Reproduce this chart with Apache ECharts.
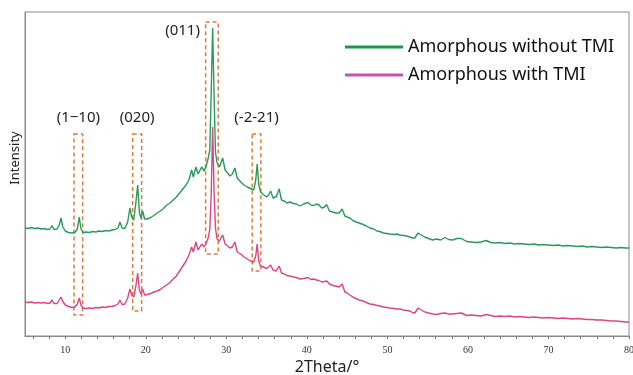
<!DOCTYPE html>
<html>
<head>
<meta charset="utf-8">
<script src="https://cdn.jsdelivr.net/npm/echarts@6/dist/echarts.min.js"></script>
<style>html,body{margin:0;padding:0;background:#fff;}#c{width:633px;height:375px;}</style>
</head>
<body>
<div id="c"></div>
<script>
// 2Theta (deg) sample positions shared by both patterns
const angles = [
  5.0, 5.4, 5.8, 6.2, 6.6, 7.0, 7.4, 7.8, 8.1, 8.35,
  8.6, 9.0, 9.25, 9.47, 9.7, 10.0, 10.4, 10.8, 11.2, 11.5,
  11.74, 11.95, 12.2, 12.6, 13.0, 13.4, 13.8, 14.2, 14.6, 15.0,
  15.4, 15.8, 16.2, 16.55, 16.79, 17.05, 17.4, 17.75, 18.03, 18.25,
  18.5, 18.75, 18.99, 19.2, 19.4, 19.61, 19.85, 20.2, 20.6, 21.0,
  21.4, 21.8, 22.2, 22.6, 23.0, 23.4, 23.8, 24.2, 24.6, 25.0,
  25.35, 25.69, 25.9, 26.22, 26.5, 26.93, 27.25, 27.5, 27.75, 27.95,
  28.12, 28.3, 28.48, 28.65, 28.85, 29.15, 29.54, 29.85, 30.15, 30.44,
  30.75, 31.06, 31.35, 31.8, 32.2, 32.6, 33.0, 33.4, 33.65, 33.83,
  34.02, 34.25, 34.6, 35.0, 35.25, 35.5, 35.8, 36.2, 36.56, 36.85,
  37.2, 37.5, 37.9, 38.3, 38.7, 39.13, 39.6, 40.16, 40.5, 40.85,
  41.2, 41.5, 41.85, 42.2, 42.45, 42.8, 43.23, 43.6, 44.0, 44.38,
  44.72, 45.0, 45.34, 45.71, 46.1, 46.5, 46.99, 47.4, 47.82, 48.3,
  48.7, 49.06, 49.5, 50.3, 50.8, 51.2, 51.54, 52.0, 52.4, 52.78,
  53.1, 53.4, 53.81, 54.1, 54.65, 55.1, 55.64, 56.1, 56.6, 57.13,
  57.6, 58.12, 58.6, 59.2, 59.82, 60.4, 61.0, 61.6, 62.3, 62.8,
  63.4, 64.0, 64.6, 65.2, 65.8, 66.4, 67.0, 67.6, 68.2, 68.8,
  69.4, 70.0, 70.6, 71.2, 71.8, 72.4, 73.0, 73.6, 74.2, 74.8,
  75.4, 76.0, 76.6, 77.2, 77.8, 78.4, 79.0, 79.6, 80.0
];
// Intensity (a.u.), Amorphous without TMI
const withoutTMI = [
  108, 107.5, 108.5, 107.5, 108, 107, 107.5, 106.5, 107, 110.5,
  106.5, 107, 111, 118, 109, 105, 103.5, 103, 103.5, 107,
  119, 107, 103.5, 104, 103.5, 104.5, 104, 105, 104.5, 105.5,
  105, 106, 106.5, 108, 114, 108, 107.5, 114, 128, 119,
  116, 132, 151, 124, 118, 125, 117, 117, 118.5, 120.5,
  123, 125, 127.5, 131, 133, 136, 139, 143, 147, 151,
  156, 166, 159, 169, 162, 169, 165, 170, 178, 186,
  244, 308, 240, 184, 173, 169, 178, 166, 163, 160,
  162, 168, 158, 154, 151, 149, 147.5, 146, 156, 172,
  152, 144, 141.5, 139, 141, 145, 138, 139.5, 147, 136,
  135, 133, 134, 132.5, 132, 130, 132, 133.5, 131, 130.5,
  132, 131, 128, 129, 131.5, 125, 124, 123, 123, 127,
  120, 119, 118, 115.5, 114, 113, 111.5, 110, 108, 107,
  105, 104.5, 103, 102, 101.5, 102, 101, 100.5, 100, 99,
  98, 98, 103, 101.5, 99, 97.5, 96, 97, 96, 98.5,
  96.5, 96, 97.5, 97.5, 94.5, 94, 93.5, 94, 95.5, 93.5,
  93, 93.5, 92.5, 93, 92, 92.5, 92, 91.5, 92, 91,
  91.5, 91, 90.5, 91, 90, 90.5, 90, 89.5, 90, 89,
  89.5, 89, 88.5, 89, 88.5, 88, 88.5, 88, 88
];
// Intensity (a.u.), Amorphous with TMI
const withTMI = [
  34, 33.5, 34, 33, 33.5, 33, 33.5, 32.5, 33, 36,
  32.5, 32.5, 36, 39, 34.5, 31, 29.5, 28.5, 29, 32,
  38, 31, 28, 27.5, 28, 27.5, 28.5, 28, 29, 28.5,
  29.5, 29.5, 30.5, 32, 36, 31.5, 32, 38, 47, 41,
  39, 49, 63, 46, 42, 47, 41, 41.5, 42.5, 44,
  45, 46.5, 49, 51, 53.5, 57, 60, 65, 70, 75,
  81, 89, 84, 94, 86, 92, 89, 93, 98, 107,
  141, 209, 144, 108, 97, 95, 101, 92, 90, 88,
  89, 94, 84, 82, 79, 77, 75, 74, 80, 92,
  75, 70, 69, 67.5, 69, 71, 66, 65, 70, 63,
  62, 60.5, 60, 59, 58.5, 57, 57.5, 58.5, 56.5, 57,
  56, 55.5, 54, 54.5, 55, 52, 50.5, 50, 49, 52,
  44, 43, 41, 39, 37.5, 36, 35, 33.5, 32, 31.5,
  30.5, 30, 29, 28, 27.5, 27, 27, 26, 25.5, 25,
  23.5, 23, 28, 26.5, 24, 23, 22, 21.5, 22.5, 23,
  22, 22, 22.5, 23, 20.5, 21, 20.5, 20, 21.5, 20.5,
  19.5, 20, 19.5, 20, 19, 19.5, 19, 18.5, 19, 18.5,
  18, 18.5, 18, 17.5, 18, 17.5, 17, 17.5, 17, 16.5,
  16.5, 16, 16, 15.5, 15, 15, 14.5, 14, 14
];
const seriesNames = ['Amorphous without TMI', 'Amorphous with TMI'];
const xLabelValues = [10, 20, 30, 40, 50, 60, 70, 80];
const xTickValues = [6, 8, 10, 12, 14, 16, 18, 20, 22, 24, 26, 28, 30, 32, 34, 36, 38, 40,
  42, 44, 46, 48, 50, 52, 54, 56, 58, 60, 62, 64, 66, 68, 70, 72, 74, 76, 78, 80];
// Reflection boxes: label, 2Theta from, 2Theta to, intensity top, intensity bottom
const peakLabels = ['(1\u221210)', '(020)', '(011)', '(-2-21)'];
const peakFrom = [11.08, 18.37, 27.43, 33.21];
const peakTo = [12.16, 19.48, 28.99, 34.29];
const peakTop = [202, 202, 314, 202];
const peakBottom = [21, 25, 82, 65];

const chart = echarts.init(document.getElementById('c'));
const pair = vals => angles.map((a, i) => [a, vals[i]]);

const boxData = peakLabels.map((name, i) => {
  const labelCfg = (i === 2)
    ? { position: [-5, 9], align: 'right', verticalAlign: 'middle' }
    : { position: 'top', distance: 8 };
  return [
    { name: name, xAxis: peakFrom[i], yAxis: peakTop[i], label: labelCfg },
    { xAxis: peakTo[i], yAxis: peakBottom[i] }
  ];
});

chart.setOption({
  animation: false,
  backgroundColor: '#fff',
  grid: { left: 25, right: 4, top: 12, bottom: 39, outerBoundsMode: 'none', containLabel: false,
    show: true, borderColor: '#8a8a8a', borderWidth: 1, backgroundColor: 'transparent' },
  legend: {
    orient: 'vertical', left: 345, top: 37, padding: 0,
    icon: 'rect', itemWidth: 58, itemHeight: 3, itemGap: 8,
    textStyle: { fontSize: 18, fontFamily: 'Noto Sans', color: '#111', lineHeight: 20 },
    data: [
      { name: seriesNames[0], itemStyle: { color: '#1c9a42' } },
      { name: seriesNames[1], itemStyle: { color: '#c254b6' } }
    ]
  },
  xAxis: {
    type: 'value', min: 5, max: 80,
    name: '2Theta/\u00b0', nameLocation: 'middle', nameGap: 23,
    nameTextStyle: { fontSize: 16, fontFamily: 'Noto Sans', color: '#222' },
    axisLine: { lineStyle: { color: '#8a8a8a', width: 1 } },
    axisTick: { customValues: xTickValues, length: 3, lineStyle: { color: '#777' } },
    axisLabel: { customValues: xLabelValues, fontFamily: 'Liberation Serif', fontSize: 10, color: '#333', margin: 9 },
    splitLine: { show: false }
  },
  yAxis: {
    type: 'value', min: 0, max: 324,
    axisLine: { show: true, lineStyle: { color: '#8a8a8a', width: 1 } },
    axisTick: { show: false }, axisLabel: { show: false }, splitLine: { show: false }
  },
  graphic: [{
    type: 'text', x: 15, y: 158, rotation: Math.PI / 2,
    style: { text: 'Intensity', fontSize: 13, fontFamily: 'Noto Sans', fill: '#222', align: 'center', verticalAlign: 'middle' }
  }],
  series: [
    {
      name: seriesNames[0], type: 'line', symbol: 'none', data: pair(withoutTMI),
      lineStyle: { color: '#2a9a5c', width: 1.4 }, itemStyle: { color: '#2a9a5c' },
      z: 3,
      markArea: {
        silent: true,
        itemStyle: { color: 'rgba(0,0,0,0)', borderColor: '#e07b3c', borderWidth: 1.5, borderType: [4, 3] },
        label: { show: true, fontSize: 15, fontFamily: 'Noto Sans', color: '#222' },
        data: boxData
      }
    },
    {
      name: seriesNames[1], type: 'line', symbol: 'none', data: pair(withTMI),
      lineStyle: { color: '#dc4580', width: 1.4 }, itemStyle: { color: '#dc4580' },
      z: 3
    }
  ]
});
</script>
</body>
</html>
